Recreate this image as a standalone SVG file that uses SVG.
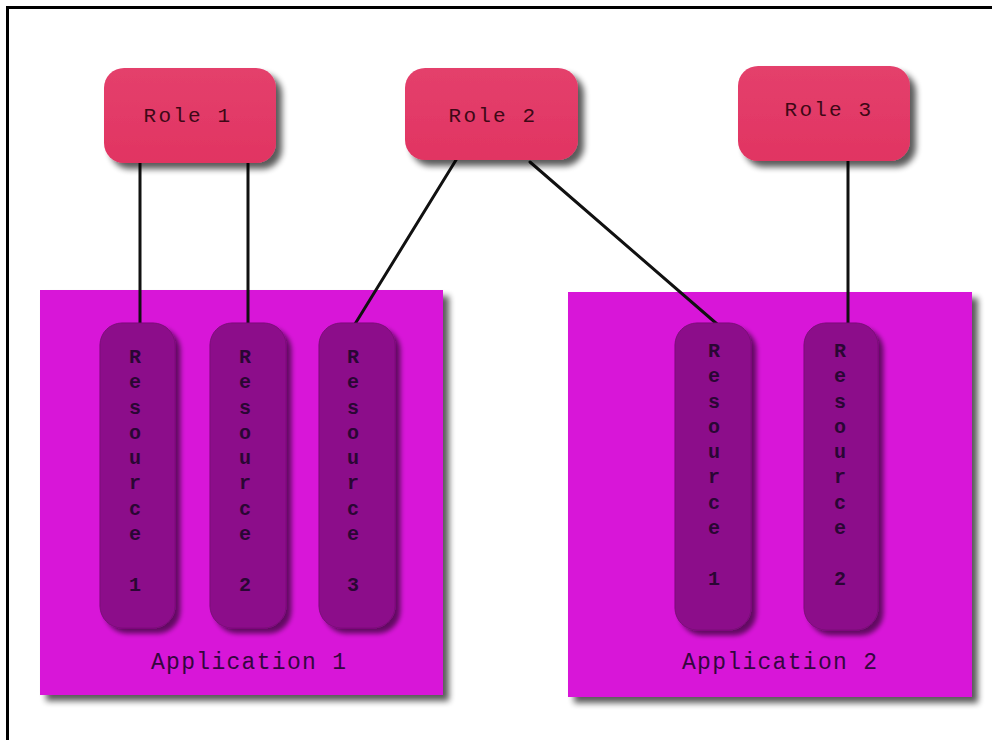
<svg xmlns="http://www.w3.org/2000/svg" width="992" height="740" viewBox="0 0 992 740">
  <defs>
    <filter id="shadow" x="-20%" y="-20%" width="150%" height="150%">
      <feGaussianBlur in="SourceAlpha" stdDeviation="3"/>
      <feOffset dx="6" dy="6" result="off"/>
      <feComponentTransfer><feFuncA type="linear" slope="0.65"/></feComponentTransfer>
      <feMerge><feMergeNode/><feMergeNode in="SourceGraphic"/></feMerge>
    </filter>
    <filter id="shadowSmall" x="-20%" y="-10%" width="150%" height="130%">
      <feGaussianBlur in="SourceAlpha" stdDeviation="2.5"/>
      <feOffset dx="5" dy="5" result="off"/>
      <feComponentTransfer><feFuncA type="linear" slope="0.55"/></feComponentTransfer>
      <feMerge><feMergeNode/><feMergeNode in="SourceGraphic"/></feMerge>
    </filter>
    <linearGradient id="roleFill" x1="0" y1="0" x2="0" y2="1">
      <stop offset="0" stop-color="#e4406c"/>
      <stop offset="1" stop-color="#e13462"/>
    </linearGradient>
  </defs>
  <style>
    .role { fill: url(#roleFill); filter: url(#shadow); }
    .app { fill: #d817d8; filter: url(#shadow); }
    .res { fill: #8c0f8a; stroke: #7a0c78; stroke-width: 1; filter: url(#shadowSmall); }
    .roleText { font-family: "Liberation Mono", "DejaVu Sans Mono", monospace; font-size: 21px; letter-spacing: 2.2px; fill: #3e0816; text-anchor: middle; }
    .appText { font-family: "Liberation Mono", "DejaVu Sans Mono", monospace; font-size: 23px; letter-spacing: 1.3px; fill: #34063e; }
    .resText { font-family: "Liberation Mono", "DejaVu Sans Mono", monospace; font-size: 20px; font-weight: bold; fill: #2a0634; text-anchor: middle; }
    .link { stroke: #111111; stroke-width: 3; fill: none; stroke-linecap: round; }
    .frame { stroke: #000000; stroke-width: 3; fill: none; }
  </style>

  <rect x="0" y="0" width="992" height="740" fill="#ffffff"/>
  <!-- page frame -->
  <path class="frame" d="M7.5 740 V7.5 H992"/>

  <!-- applications -->
  <g id="app1">
    <rect class="app" x="40" y="290" width="403" height="405"/>
    <text class="appText" x="151" y="669">Application 1</text>
  </g>
  <g id="app2">
    <rect class="app" x="568" y="292" width="404" height="405"/>
    <text class="appText" x="682" y="669">Application 2</text>
  </g>

  <!-- connectors -->
  <g id="connectors">
    <line class="link" x1="140" y1="160" x2="140" y2="324"/>
    <line class="link" x1="248" y1="160" x2="248" y2="324"/>
    <line class="link" x1="456" y1="160" x2="355" y2="324"/>
    <line class="link" x1="530" y1="162" x2="717" y2="324"/>
    <line class="link" x1="848" y1="158" x2="848" y2="324"/>
  </g>

  <!-- roles -->
  <g id="role1">
    <rect class="role" x="104" y="68" width="172" height="95" rx="20"/>
    <text class="roleText" x="188" y="122">Role 1</text>
  </g>
  <g id="role2">
    <rect class="role" x="405" y="68" width="173" height="92" rx="20"/>
    <text class="roleText" x="493" y="122">Role 2</text>
  </g>
  <g id="role3">
    <rect class="role" x="738" y="66" width="172" height="95" rx="20"/>
    <text class="roleText" x="829" y="116">Role 3</text>
  </g>

  <!-- resources of application 1 -->
  <g id="app1-res1">
    <rect class="res" x="100" y="323" width="75" height="305" rx="22"/>
    <text class="resText" x="135">
      <tspan x="135" y="363">R</tspan><tspan x="135" y="388">e</tspan><tspan x="135" y="414">s</tspan><tspan x="135" y="439">o</tspan><tspan x="135" y="464">u</tspan><tspan x="135" y="489">r</tspan><tspan x="135" y="515">c</tspan><tspan x="135" y="540">e</tspan><tspan x="135" y="591">1</tspan>
    </text>
  </g>
  <g id="app1-res2">
    <rect class="res" x="210" y="323" width="76" height="305" rx="22"/>
    <text class="resText" x="245">
      <tspan x="245" y="363">R</tspan><tspan x="245" y="388">e</tspan><tspan x="245" y="414">s</tspan><tspan x="245" y="439">o</tspan><tspan x="245" y="464">u</tspan><tspan x="245" y="489">r</tspan><tspan x="245" y="515">c</tspan><tspan x="245" y="540">e</tspan><tspan x="245" y="591">2</tspan>
    </text>
  </g>
  <g id="app1-res3">
    <rect class="res" x="319" y="323" width="76" height="305" rx="22"/>
    <text class="resText" x="353">
      <tspan x="353" y="363">R</tspan><tspan x="353" y="388">e</tspan><tspan x="353" y="414">s</tspan><tspan x="353" y="439">o</tspan><tspan x="353" y="464">u</tspan><tspan x="353" y="489">r</tspan><tspan x="353" y="515">c</tspan><tspan x="353" y="540">e</tspan><tspan x="353" y="591">3</tspan>
    </text>
  </g>

  <!-- resources of application 2 -->
  <g id="app2-res1">
    <rect class="res" x="675" y="323" width="76" height="307" rx="22"/>
    <text class="resText" x="714">
      <tspan x="714" y="357">R</tspan><tspan x="714" y="382">e</tspan><tspan x="714" y="408">s</tspan><tspan x="714" y="433">o</tspan><tspan x="714" y="458">u</tspan><tspan x="714" y="483">r</tspan><tspan x="714" y="509">c</tspan><tspan x="714" y="534">e</tspan><tspan x="714" y="585">1</tspan>
    </text>
  </g>
  <g id="app2-res2">
    <rect class="res" x="804" y="323" width="74" height="307" rx="22"/>
    <text class="resText" x="840">
      <tspan x="840" y="357">R</tspan><tspan x="840" y="382">e</tspan><tspan x="840" y="408">s</tspan><tspan x="840" y="433">o</tspan><tspan x="840" y="458">u</tspan><tspan x="840" y="483">r</tspan><tspan x="840" y="509">c</tspan><tspan x="840" y="534">e</tspan><tspan x="840" y="585">2</tspan>
    </text>
  </g>
</svg>
